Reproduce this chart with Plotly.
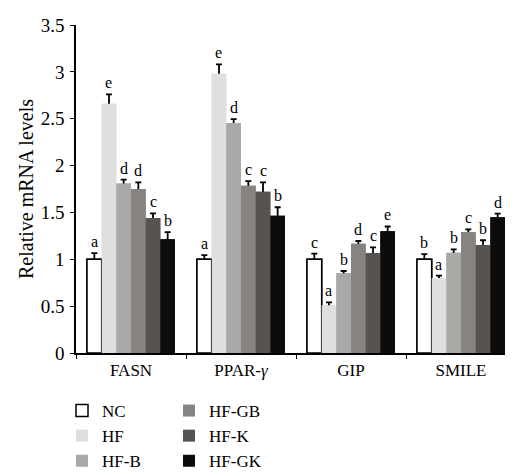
import plotly.graph_objects as go

categories = ["FASN", "PPAR-γ", "GIP", "SMILE"]
tick_labels = ["FASN", "PPAR-<i>γ</i>", "GIP", "SMILE"]
groups = ["NC", "HF", "HF-B", "HF-GB", "HF-K", "HF-GK"]

values = {
    "NC":    [1.00, 1.00, 1.00, 1.00],
    "HF":    [2.66, 2.98, 0.51, 0.80],
    "HF-B":  [1.81, 2.455, 0.85, 1.07],
    "HF-GB": [1.75, 1.785, 1.165, 1.29],
    "HF-K":  [1.44, 1.72, 1.067, 1.153],
    "HF-GK": [1.215, 1.465, 1.30, 1.448],
}
errors = {
    "NC":    [0.065, 0.045, 0.06, 0.055],
    "HF":    [0.10, 0.10, 0.03, 0.025],
    "HF-B":  [0.04, 0.04, 0.025, 0.035],
    "HF-GB": [0.07, 0.05, 0.03, 0.03],
    "HF-K":  [0.05, 0.10, 0.06, 0.05],
    "HF-GK": [0.075, 0.09, 0.05, 0.04],
}
letters = {
    "NC":    ["a", "a", "c", "b"],
    "HF":    ["e", "e", "a", "a"],
    "HF-B":  ["d", "d", "b", "b"],
    "HF-GB": ["d", "c", "d", "c"],
    "HF-K":  ["c", "c", "c", "b"],
    "HF-GK": ["b", "b", "e", "d"],
}
colors = {
    "NC": "#ffffff", "HF": "#e0dfe0", "HF-B": "#aba9a8",
    "HF-GB": "#878381", "HF-K": "#575350", "HF-GK": "#0e0c0b",
}
legend_of = {"NC": "legend", "HF": "legend", "HF-B": "legend",
             "HF-GB": "legend2", "HF-K": "legend2", "HF-GK": "legend2"}

FONT = "Liberation Serif, Times New Roman, Times, serif"
# page body keeps its default 8px margin, so the figure is 8px smaller
W, H = 505, 464
ML, MR, MT, MB = 68, 0, 17, 119
XMAX = 3.4727
plot_w = W - ML - MR
cat_px = plot_w / (XMAX + 0.5)
bargap = 0.2
bar_px = cat_px * (1 - bargap) / len(groups)


def bar_marker(g):
    return dict(color=colors[g],
                line=dict(color="#000000" if g == "NC" else colors[g],
                          width=1.5 if g == "NC" else 0))


fig = go.Figure()
# base bars carrying the (upward only) error bars
for gi, g in enumerate(groups):
    fig.add_trace(go.Bar(
        name=g, x=categories, y=values[g], marker=bar_marker(g),
        error_y=dict(type="data", symmetric=False, array=errors[g],
                     arrayminus=[0.015] * len(categories),
                     color="#000000", thickness=1.8, width=3),
        legend=legend_of[g], xaxis="x", yaxis="y",
    ))
# same bars again on an overlaid axis, hiding the lower part of the error bars
for gi, g in enumerate(groups):
    fig.add_trace(go.Bar(
        name=g, x=categories, y=values[g], marker=bar_marker(g),
        showlegend=False, hoverinfo="skip", xaxis="x2", yaxis="y",
    ))
for gi, g in enumerate(groups):
    for ci, c in enumerate(categories):
        fig.add_annotation(
            x=c, y=values[g][ci] + errors[g][ci], text=letters[g][ci],
            showarrow=False, yanchor="bottom", xanchor="center",
            xshift=(gi - (len(groups) - 1) / 2) * bar_px, yshift=1,
            font=dict(family=FONT, size=16, color="#000000"),
        )

legend_common = dict(orientation="h", bgcolor="rgba(0,0,0,0)",
                     font=dict(family=FONT, size=17, color="#000000"),
                     xref="container", yref="container",
                     xanchor="left", yanchor="top", itemclick=False,
                     entrywidth=260, entrywidthmode="pixels",
                     tracegroupgap=0)
xcommon = dict(type="category", categoryorder="array", categoryarray=categories,
               range=[-0.5, XMAX])
fig.update_layout(
    width=W, height=H,
    margin=dict(l=ML, r=MR, t=MT, b=MB),
    paper_bgcolor="white", plot_bgcolor="white",
    barmode="group", bargap=bargap, bargroupgap=0,
    font=dict(family=FONT, size=17, color="#000000"),
    legend=dict(x=54 / W, y=1 - 385 / H, **legend_common),
    legend2=dict(x=161 / W, y=1 - 385 / H, **legend_common),
    xaxis=dict(
        **xcommon,
        tickvals=categories, ticktext=tick_labels,
        showline=True, linecolor="#000000", linewidth=1.5,
        ticks="outside", tickson="boundaries", ticklen=4, tickwidth=1.2,
        tickcolor="#000000", showgrid=False, zeroline=False,
        ticklabelstandoff=1, automargin=False,
        tickfont=dict(family=FONT, size=17),
    ),
    xaxis2=dict(**xcommon, overlaying="x", visible=False, showgrid=False,
                zeroline=False, automargin=False),
    yaxis=dict(
        range=[0, 3.5], tickvals=[0, 0.5, 1, 1.5, 2, 2.5, 3, 3.5],
        ticktext=["0", "0.5", "1", "1.5", "2", "2.5", "3", "3.5"],
        showline=True, linecolor="#000000", linewidth=1.5,
        ticks="outside", ticklen=4, tickwidth=1.2, tickcolor="#000000",
        showgrid=False, zeroline=False, ticklabelstandoff=2, automargin=False,
        tickfont=dict(family=FONT, size=19),
        title=dict(text="Relative mRNA levels", standoff=2,
                   font=dict(family=FONT, size=20)),
    ),
    showlegend=True,
)
fig.write_html("out.html")
